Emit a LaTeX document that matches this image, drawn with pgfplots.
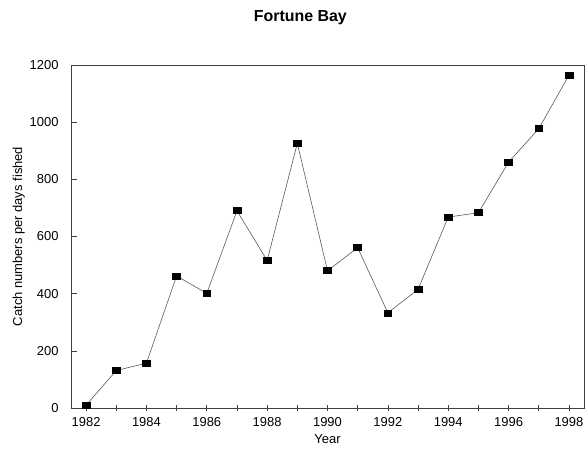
\documentclass[border=0pt]{standalone}
\usepackage{fontspec}
\setmainfont{Liberation Sans}
\usepackage{pgfplots}
\pgfplotsset{compat=1.18}
\begin{document}
\begin{tikzpicture}
\begin{axis}[
  scale only axis,
  width=513bp, height=343bp,
  xmin=1981.5, xmax=1998.5,
  ymin=0, ymax=1200,
  xtick={1982,1983,...,1998},
  xticklabels={1982,,1984,,1986,,1988,,1990,,1992,,1994,,1996,,1998},
  ytick={0,200,...,1200},
  axis line style={black!75, line width=0.6pt},
  every tick/.style={black!75, line width=0.6pt},
  major tick length=6bp,
  xtick align=center,
  ytick align=inside,
  xtick pos=bottom, ytick pos=left,
  /pgf/number format/assume math mode=true,
  /pgf/number format/1000 sep={},
  tick label style={font=\fontsize{13}{15}\selectfont},
  yticklabel style={xshift=-9bp},
  xticklabel style={yshift=-3bp},
  xlabel={Year},
  ylabel={Catch numbers per days fished},
  label style={font=\fontsize{13}{15}\selectfont},
  xlabel style={yshift=-1bp},
  ylabel style={yshift=-2bp},
  clip=false,
]
\addplot[black!65, line width=0.6pt, mark=square*,
  mark options={black, fill=black, mark size=3bp, xscale=1.3, solid}]
  coordinates {
  (1982,10) (1983,131) (1984,157) (1985,462) (1986,401) (1987,690)
  (1988,516) (1989,926) (1990,480) (1991,561) (1992,333) (1993,415)
  (1994,668) (1995,683) (1996,860) (1997,977) (1998,1164)
  };
\node[font=\bfseries\fontsize{16}{18}\selectfont] at (axis cs:1989.1,1200) [yshift=47bp] {Fortune Bay};
\end{axis}
\path (current axis.south west) ++(-71bp,-45bp) coordinate (bbA);
\path (current axis.north east) ++(3bp,65bp) coordinate (bbB);
\path (bbA) rectangle (bbB);
\end{tikzpicture}
\end{document}
